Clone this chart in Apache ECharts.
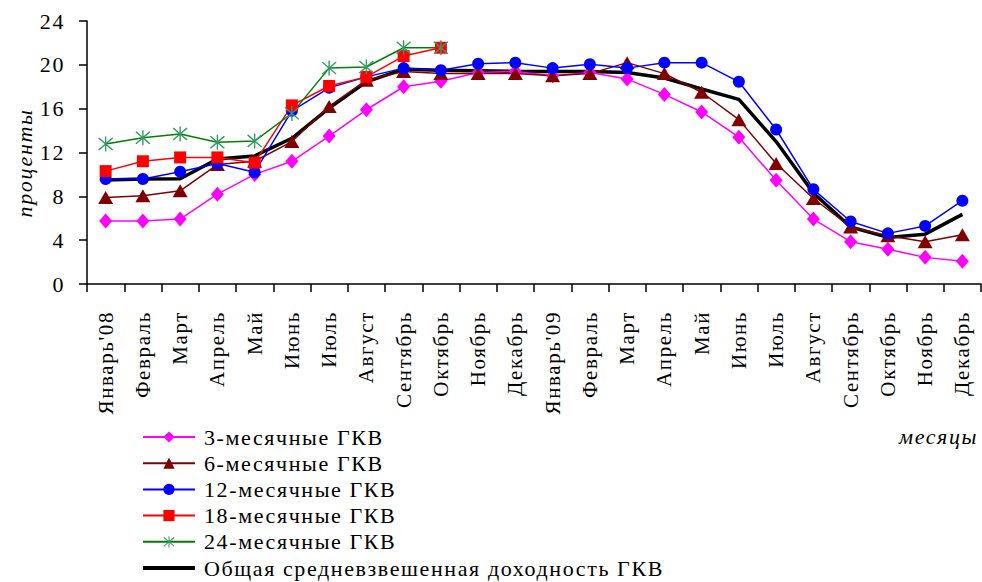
<!DOCTYPE html>
<html>
<head>
<meta charset="utf-8">
<script src="https://cdn.jsdelivr.net/npm/echarts@6/dist/echarts.min.js"></script>
<style>
html,body{margin:0;padding:0;background:#fff;}
#c{width:982px;height:582px;}
#c svg text{letter-spacing:1.6px;font-family:"Liberation Serif",serif !important;}
</style>
</head>
<body>
<div id="c"></div>
<script>
const categories = ["Январь'08","Февраль","Март","Апрель","Май","Июнь","Июль","Август","Сентябрь","Октябрь","Ноябрь","Декабрь",
  "Январь'09","Февраль","Март","Апрель","Май","Июнь","Июль","Август","Сентябрь","Октябрь","Ноябрь","Декабрь"];
const yTicks = [0, 4, 8, 12, 16, 20, 24];
const seriesNames = ["3-месячные ГКВ","6-месячные ГКВ","12-месячные ГКВ","18-месячные ГКВ","24-месячные ГКВ","Общая средневзвешенная доходность ГКВ"];
const gkv3  = [5.75,5.75,5.93,8.2,10.0,11.2,13.5,15.9,18.0,18.5,19.3,19.4,19.0,19.3,18.7,17.3,15.7,13.4,9.46,5.93,3.86,3.17,2.43,2.07];
const gkv6  = [7.9,8.05,8.5,10.9,11.2,13.0,16.2,18.6,19.4,19.2,19.2,19.2,19.0,19.2,20.2,19.2,17.5,15.0,11.0,7.8,5.2,4.4,3.86,4.5];
const gkv12 = [9.58,9.58,10.25,11.0,10.2,15.8,17.9,18.9,19.7,19.5,20.1,20.2,19.7,20.05,19.7,20.2,20.2,18.45,14.1,8.64,5.7,4.62,5.3,7.6];
const gkv18 = [10.3,11.2,11.55,11.55,11.07,16.3,18.07,18.9,20.8,21.56];
const gkv24 = [12.77,13.35,13.69,12.93,13.05,15.57,19.7,19.8,21.56,21.56];
const gkvAll = [9.5,9.58,9.6,11.4,11.68,13.3,16.05,18.45,19.6,19.5,19.45,19.4,19.4,19.4,19.3,18.8,17.8,16.85,13.0,8.3,5.2,4.25,4.55,6.35];

const FONT = 'Liberation Serif';
const asterisk = 'path://M46 0L54 0L54 100L46 100Z M7 13L13 7L93 87L87 93Z M87 7L93 13L13 93L7 87Z';
const thickLine = 'path://M0 0H52V4H0Z';

const chart = echarts.init(document.getElementById('c'), null, {renderer: 'svg'});
const option = {
  backgroundColor: '#fff',
  animation: false,
  textStyle: {fontFamily: FONT, color: '#000'},
  grid: {left: 87, right: 1, top: 21, bottom: 298, containLabel: false},
  legend: {
    orient: 'vertical', left: 142, top: 426, padding: 0, height: 400,
    itemWidth: 52, itemHeight: 14, itemGap: 4.2,
    textStyle: {fontFamily: FONT, fontSize: 22, color: '#000', lineHeight: 20, padding: [0, 0, 0, 4]},
    data: seriesNames.slice(0, 5).concat([{name: seriesNames[5], icon: thickLine}])
  },
  graphic: [{
    type: 'text', left: 899, top: 425,
    style: {text: 'месяцы', fontFamily: FONT, fontSize: 22, fontStyle: 'italic', fill: '#000'}
  }, {
    type: 'text', x: 24, y: 163, rotation: Math.PI / 2,
    style: {text: 'проценты', fontFamily: FONT, fontSize: 22, fontStyle: 'italic', fill: '#000',
      align: 'center', verticalAlign: 'middle'}
  }],
  xAxis: {
    type: 'category', data: categories, boundaryGap: true,
    axisLine: {lineStyle: {color: '#000', width: 1.5}},
    axisTick: {show: true, interval: 0, length: 8, lineStyle: {color: '#000', width: 1.5}},
    axisLabel: {interval: 0, rotate: 90, margin: 27, fontFamily: FONT, fontSize: 21, color: '#000'},
    splitLine: {show: false}
  },
  yAxis: {
    type: 'value', min: yTicks[0], max: yTicks[yTicks.length - 1], interval: 4,
    axisLine: {show: true, lineStyle: {color: '#000', width: 1.5}},
    axisTick: {show: true, length: 8, lineStyle: {color: '#000', width: 1.5}},
    axisLabel: {margin: 22, fontFamily: FONT, fontSize: 22, color: '#000'},
    splitLine: {show: false}
  },
  series: [
    {name: seriesNames[0], type: 'line', data: gkv3, symbol: 'diamond', symbolSize: [13, 15], z: 3,
      lineStyle: {color: '#FF00FF', width: 1.5}, itemStyle: {color: '#FF00FF'}},
    {name: seriesNames[1], type: 'line', data: gkv6, symbol: 'triangle', symbolSize: [15, 13], z: 3,
      lineStyle: {color: '#800000', width: 1.5}, itemStyle: {color: '#800000'}},
    {name: seriesNames[2], type: 'line', data: gkv12, symbol: 'circle', symbolSize: 12, z: 3,
      lineStyle: {color: '#0000FF', width: 1.5}, itemStyle: {color: '#0000FF'}},
    {name: seriesNames[3], type: 'line', data: gkv18, symbol: 'rect', symbolSize: 12, z: 3,
      lineStyle: {color: '#FF0000', width: 1.5}, itemStyle: {color: '#FF0000'}},
    {name: seriesNames[4], type: 'line', data: gkv24, symbol: asterisk, symbolSize: 15, z: 3,
      lineStyle: {color: '#008000', width: 1.5}, itemStyle: {color: '#339966'}},
    {name: seriesNames[5], type: 'line', data: gkvAll, symbol: 'none', z: 2,
      lineStyle: {color: '#000', width: 3.5}, itemStyle: {color: '#000'}}
  ]
};
chart.setOption(option);
</script>
</body>
</html>
